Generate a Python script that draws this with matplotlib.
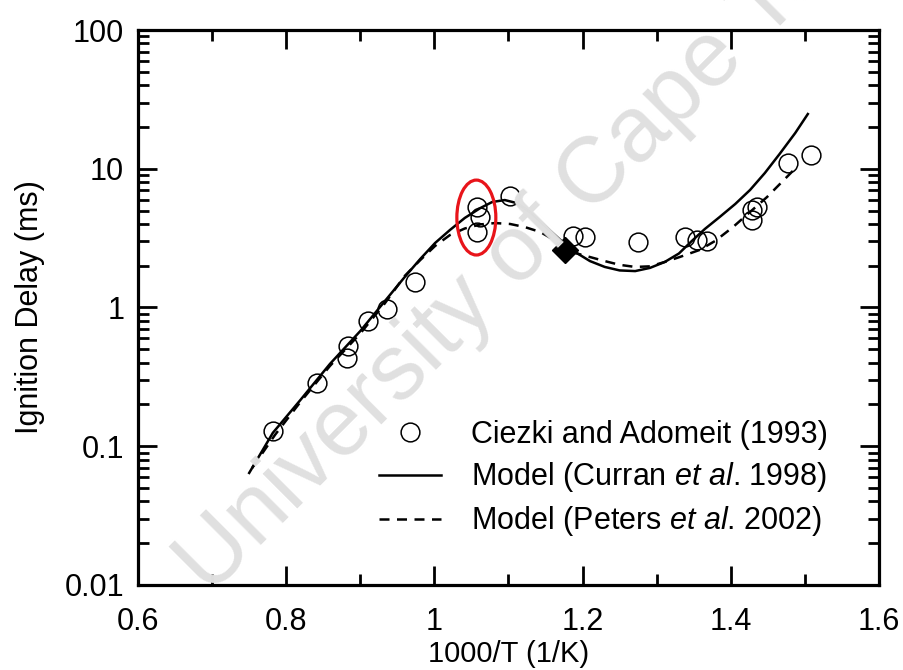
import numpy as np
import matplotlib
matplotlib.use("Agg")
from matplotlib import pyplot as plt
from matplotlib.patches import Ellipse
from matplotlib.ticker import FixedLocator, FixedFormatter, NullFormatter, LogLocator

plt.rcParams["font.family"] = ["Liberation Sans", "DejaVu Sans"]
plt.rcParams["mathtext.fontset"] = "custom"
plt.rcParams["mathtext.rm"] = "Liberation Sans"
plt.rcParams["mathtext.it"] = "Liberation Sans:italic"

# shock tube measurements (Ciezki and Adomeit 1993)
exp_x = [0.782, 0.842, 0.883, 0.882, 0.910, 0.936, 0.974, 1.057, 1.061, 1.057,
         1.102, 1.187, 1.203, 1.275, 1.338, 1.354, 1.368, 1.429, 1.435, 1.429,
         1.477, 1.508]
exp_tau = [0.129, 0.286, 0.528, 0.432, 0.80, 0.976, 1.53, 5.30, 4.49, 3.50,
           6.36, 3.28, 3.22, 2.97, 3.22, 3.06, 3.02, 5.05, 5.30, 4.27,
           11.0, 12.6]

# Curran et al. 1998 mechanism
curran_x = [0.750, 0.782, 0.819, 0.859, 0.900, 0.933, 0.960, 0.981, 1.001,
            1.021, 1.041, 1.062, 1.078, 1.095, 1.111, 1.129, 1.149, 1.170,
            1.190, 1.210, 1.230, 1.250, 1.271, 1.291, 1.311, 1.330, 1.347,
            1.365, 1.385, 1.406, 1.426, 1.446, 1.466, 1.487, 1.504]
curran_tau = [0.0642, 0.125, 0.215, 0.392, 0.677, 1.11, 1.66, 2.24, 2.92,
              3.62, 4.42, 5.21, 5.76, 5.95, 5.66, 4.88, 3.87, 3.07,
              2.51, 2.16, 1.96, 1.85, 1.83, 1.93, 2.13, 2.45, 3.00,
              3.68, 4.49, 5.57, 7.03, 9.32, 12.8, 18.1, 24.8]

# Peters et al. 2002 reduced mechanism
peters_x = [0.754, 0.785, 0.819, 0.859, 0.900, 0.933, 0.960, 0.981, 1.001,
            1.021, 1.041, 1.062, 1.082, 1.102, 1.122, 1.143, 1.159, 1.176,
            1.190, 1.210, 1.230, 1.250, 1.271, 1.291, 1.311, 1.331, 1.358,
            1.379, 1.403, 1.426, 1.449, 1.469, 1.489]
peters_tau = [0.0697, 0.121, 0.208, 0.379, 0.650, 1.07, 1.69, 2.20, 2.78,
              3.33, 3.71, 3.97, 4.06, 4.00, 3.80, 3.50, 3.12, 2.64,
              2.47, 2.31, 2.16, 2.03, 1.96, 1.98, 2.13, 2.31, 2.60,
              3.02, 3.80, 4.88, 6.26, 8.03, 10.3]

# highlighted point
mark_x = [1.176]
mark_tau = [2.60]

x_ticks = [0.6, 0.8, 1.0, 1.2, 1.4, 1.6]
x_labels = ["0.6", "0.8", "1", "1.2", "1.4", "1.6"]
y_ticks = [0.01, 0.1, 1, 10, 100]
y_labels = ["0.01", "0.1", "1", "10", "100"]

fs = 22

fig = plt.figure(figsize=(9.04, 6.70), dpi=100)
ax = fig.add_axes([0.1527, 0.1269, 0.8196, 0.8283])

ax.plot(curran_x, curran_tau, color="black", lw=1.8, zorder=3,
        label=r"Model (Curran $\it{et\ al}$. 1998)")
ax.plot(peters_x, peters_tau, color="black", lw=1.8, ls=(0, (4, 3)), zorder=3,
        label=r"Model (Peters $\it{et\ al}$. 2002)")
ax.plot(exp_x, exp_tau, ls="none", marker="o", ms=13.5, mfc="none", mec="black",
        mew=1.1, zorder=4, label="Ciezki and Adomeit (1993)")
ax.plot(mark_x, mark_tau, ls="none", marker="D", ms=13, color="black", zorder=5)

ax.set_yscale("log")
ax.set_xlim(0.6, 1.6)
ax.set_ylim(0.01, 100)

ax.xaxis.set_major_locator(FixedLocator(x_ticks))
ax.xaxis.set_major_formatter(FixedFormatter(x_labels))
ax.xaxis.set_minor_locator(FixedLocator(np.arange(0.7, 1.6, 0.2)))
ax.yaxis.set_major_locator(FixedLocator(y_ticks))
ax.yaxis.set_major_formatter(FixedFormatter(y_labels))
ax.yaxis.set_minor_locator(LogLocator(base=10, subs=np.arange(2, 10)))
ax.yaxis.set_minor_formatter(NullFormatter())

ax.tick_params(which="both", direction="in", top=True, right=True, width=2.0,
               labelsize=fs)
ax.tick_params(which="major", length=14)
ax.tick_params(which="minor", length=8)
ax.tick_params(axis="y", which="major", pad=10)
ax.tick_params(axis="x", which="major", pad=16)
for s in ax.spines.values():
    s.set_linewidth(2.3)

ax.set_xlabel("1000/T (1/K)", fontsize=21, labelpad=2)
ax.set_ylabel("Ignition Delay (ms)", fontsize=fs, labelpad=14)

handles, labels = ax.get_legend_handles_labels()
order = [2, 0, 1]
ax.legend([handles[i] for i in order], [labels[i] for i in order],
          loc="upper left", bbox_to_anchor=(0.325, 0.297), frameon=False,
          fontsize=fs, handlelength=2.03, handletextpad=1.0, labelspacing=0.33,
          borderpad=0, borderaxespad=0)

# red ring around the three points near 1000/T = 1.06
xc, yc = 1.0566, 4.45
cx, cy = ax.transAxes.inverted().transform(ax.transData.transform((xc, yc)))
ax.add_patch(Ellipse((cx, cy), 0.0526, 0.135, transform=ax.transAxes,
                     fill=False, ec="#e8141a", lw=2.3, zorder=6))

# watermark
fig.text(0.232, 0.11, "University of Cape Town", fontsize=67, color="#e0e0e0",
         rotation=45, rotation_mode="anchor", ha="left", va="baseline",
         zorder=0)
ax.set_facecolor("none")

fig.savefig("out.png", dpi=100)
